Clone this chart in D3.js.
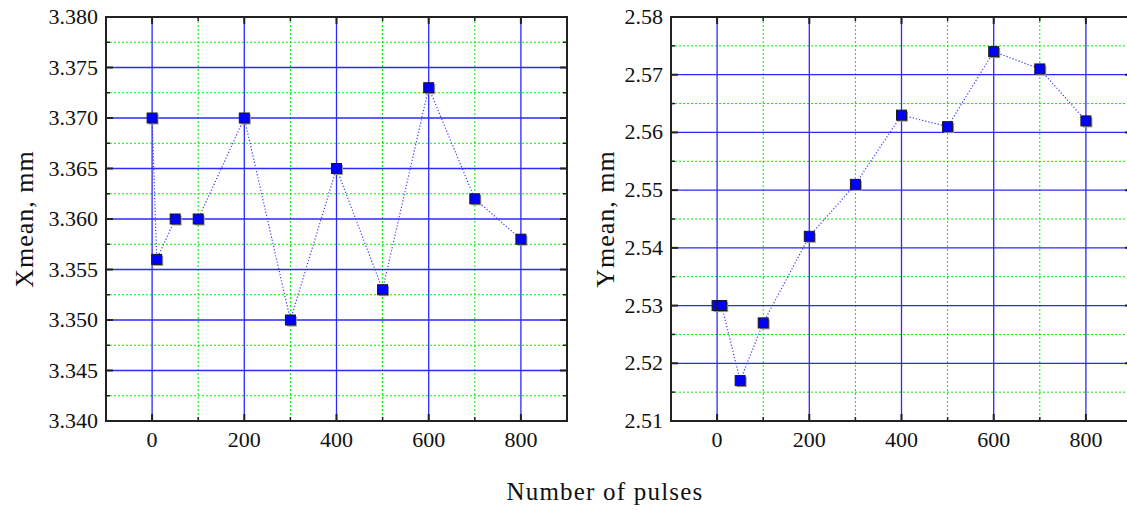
<!DOCTYPE html>
<html>
<head>
<meta charset="utf-8">
<script src="https://cdn.jsdelivr.net/npm/d3@7"></script>
<style>
  body { margin: 0; background: #fff; }
</style>
</head>
<body>
<svg id="chart" width="1127" height="510"></svg>
<script>
// pulses (x) shared by both panels
var pulses = [0, 10, 50, 100, 200, 300, 400, 500, 600, 700, 800];
var xMean = [3.370, 3.356, 3.360, 3.360, 3.370, 3.350, 3.365, 3.353, 3.373, 3.362, 3.358];
var yMean = [2.530, 2.530, 2.517, 2.527, 2.542, 2.551, 2.563, 2.561, 2.574, 2.571, 2.562];

var xMajorTicks = [0, 200, 400, 600, 800];
var xMinorTicks = [-100, 100, 300, 500, 700, 900];
var leftYTicks = [3.340, 3.345, 3.350, 3.355, 3.360, 3.365, 3.370, 3.375, 3.380];
var rightYTicks = [2.51, 2.52, 2.53, 2.54, 2.55, 2.56, 2.57, 2.58];

var serif = "'Liberation Serif', 'Times New Roman', Times, 'DejaVu Serif', serif";

var svg = d3.select("#chart")
  .attr("font-family", serif);

var panels = [
  { values: xMean, yTicks: leftYTicks, fmt: d3.format(".3f"), title: "Xmean, mm",
    left: 106, right: 567, titleX: 33 },
  { values: yMean, yTicks: rightYTicks, fmt: d3.format(".2f"), title: "Ymean, mm",
    left: 671, right: 1132, titleX: 614 }
];
var plotTop = 17, plotBottom = 421;

panels.forEach(function(p){
  var x = d3.scaleLinear().domain([-100, 900]).range([p.left, p.right]);
  var yLo = p.yTicks[0], yHi = p.yTicks[p.yTicks.length - 1];
  var y = d3.scaleLinear().domain([yLo, yHi]).range([plotBottom, plotTop]);
  var step = p.yTicks[1] - p.yTicks[0];
  var yMinor = p.yTicks.slice(0, -1).map(function(t){ return t + step / 2; });

  var g = svg.append("g");

  // minor grid (green dotted)
  g.selectAll(".vminor").data(xMinorTicks).enter().append("line")
    .attr("x1", function(d){ return x(d); }).attr("x2", function(d){ return x(d); })
    .attr("y1", plotTop).attr("y2", plotBottom)
    .attr("stroke", "#00ee00").attr("stroke-width", 1).attr("stroke-dasharray", "2,2");
  g.selectAll(".hminor").data(yMinor).enter().append("line")
    .attr("x1", p.left).attr("x2", p.right)
    .attr("y1", function(d){ return y(d); }).attr("y2", function(d){ return y(d); })
    .attr("stroke", "#00ee00").attr("stroke-width", 1).attr("stroke-dasharray", "2,2");

  // major grid (blue solid)
  g.selectAll(".vmajor").data(xMajorTicks).enter().append("line")
    .attr("x1", function(d){ return x(d); }).attr("x2", function(d){ return x(d); })
    .attr("y1", plotTop).attr("y2", plotBottom)
    .attr("stroke", "#2a2aff").attr("stroke-width", 1.3);
  g.selectAll(".hmajor").data(p.yTicks.slice(1, -1)).enter().append("line")
    .attr("x1", p.left).attr("x2", p.right)
    .attr("y1", function(d){ return y(d); }).attr("y2", function(d){ return y(d); })
    .attr("stroke", "#2a2aff").attr("stroke-width", 1.3);

  // frame
  g.append("rect")
    .attr("x", p.left).attr("y", plotTop)
    .attr("width", p.right - p.left).attr("height", plotBottom - plotTop)
    .attr("fill", "none").attr("stroke", "#222").attr("stroke-width", 2);

  // inward ticks
  var ticks = g.append("g").attr("stroke", "#222");
  xMajorTicks.forEach(function(t){
    ticks.append("line").attr("x1", x(t)).attr("x2", x(t)).attr("y1", plotBottom).attr("y2", plotBottom - 7).attr("stroke-width", 2);
    ticks.append("line").attr("x1", x(t)).attr("x2", x(t)).attr("y1", plotTop).attr("y2", plotTop + 7).attr("stroke-width", 2);
  });
  xMinorTicks.forEach(function(t){
    ticks.append("line").attr("x1", x(t)).attr("x2", x(t)).attr("y1", plotBottom).attr("y2", plotBottom - 4).attr("stroke-width", 1.5);
    ticks.append("line").attr("x1", x(t)).attr("x2", x(t)).attr("y1", plotTop).attr("y2", plotTop + 4).attr("stroke-width", 1.5);
  });
  p.yTicks.forEach(function(t){
    ticks.append("line").attr("x1", p.left).attr("x2", p.left + 7).attr("y1", y(t)).attr("y2", y(t)).attr("stroke-width", 2);
    ticks.append("line").attr("x1", p.right).attr("x2", p.right - 7).attr("y1", y(t)).attr("y2", y(t)).attr("stroke-width", 2);
  });
  yMinor.forEach(function(t){
    ticks.append("line").attr("x1", p.left).attr("x2", p.left + 4).attr("y1", y(t)).attr("y2", y(t)).attr("stroke-width", 1.5);
    ticks.append("line").attr("x1", p.right).attr("x2", p.right - 4).attr("y1", y(t)).attr("y2", y(t)).attr("stroke-width", 1.5);
  });

  // tick labels
  g.selectAll(".xl").data(xMajorTicks).enter().append("text")
    .attr("x", function(d){ return x(d); }).attr("y", plotBottom + 26)
    .attr("text-anchor", "middle").attr("font-size", 22).attr("fill", "#111")
    .text(function(d){ return d; });
  g.selectAll(".yl").data(p.yTicks).enter().append("text")
    .attr("x", p.left - 8).attr("y", function(d){ return y(d) + 7; })
    .attr("text-anchor", "end").attr("font-size", 22).attr("fill", "#111")
    .text(function(d){ return p.fmt(d); });

  // axis title
  g.append("text")
    .attr("transform", "translate(" + p.titleX + "," + ((plotTop + plotBottom) / 2) + ") rotate(-90)")
    .attr("text-anchor", "middle").attr("font-size", 26).attr("letter-spacing", 1)
    .attr("fill", "#111")
    .text(p.title);

  // dotted connecting line
  var pts = pulses.map(function(d, i){ return [d, p.values[i]]; });
  g.append("path")
    .datum(pts)
    .attr("d", d3.line().x(function(d){ return x(d[0]); }).y(function(d){ return y(d[1]); }))
    .attr("fill", "none").attr("stroke", "#3a3aff").attr("stroke-width", 1.2)
    .attr("stroke-dasharray", "1.2,2");

  // square markers with shadow
  var s = 10;
  g.selectAll(".shadow").data(pts).enter().append("rect")
    .attr("x", function(d){ return x(d[0]) - s / 2 + 1.5; })
    .attr("y", function(d){ return y(d[1]) - s / 2 + 1.5; })
    .attr("width", s).attr("height", s)
    .attr("fill", "#999");
  g.selectAll(".mark").data(pts).enter().append("rect")
    .attr("x", function(d){ return x(d[0]) - s / 2; })
    .attr("y", function(d){ return y(d[1]) - s / 2; })
    .attr("width", s).attr("height", s)
    .attr("fill", "#0000ff").attr("stroke", "#1a1a1a").attr("stroke-width", 1);
});

svg.append("text")
  .attr("x", 605).attr("y", 500)
  .attr("text-anchor", "middle").attr("font-size", 25).attr("letter-spacing", 1.2)
  .attr("fill", "#111")
  .text("Number of pulses");
</script>
</body>
</html>
